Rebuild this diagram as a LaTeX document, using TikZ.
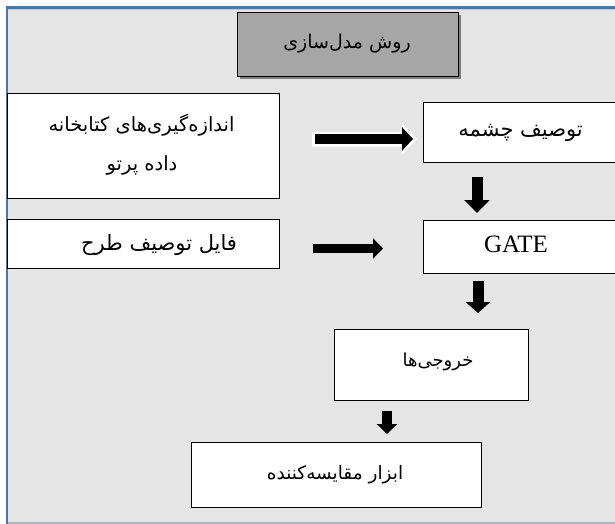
\documentclass[tikz,border=0pt]{standalone}
\usepackage{fontspec}
\setmainfont{Liberation Serif}
\newfontfamily\fa[Script=Arabic]{DejaVu Sans}
\TeXXeTstate=1
\usetikzlibrary{arrows.meta}
\definecolor{bg}{HTML}{E5E5E5}
\definecolor{framecol}{HTML}{4A78A8}
\definecolor{framelight}{HTML}{B9CCE0}
\definecolor{bottomcol}{HTML}{A8B6C6}
\definecolor{titlefill}{HTML}{A6A6A6}
\definecolor{shadowcol}{HTML}{7F7F7F}
\tikzset{
  box/.style={draw=black, fill=white, line width=1.3pt, inner sep=0pt, anchor=north west},
  fatext/.style={font=\fa\fontsize{#1}{22}\selectfont, inner sep=0pt},
  fatext/.default=18,
  entext/.style={font=\fontsize{25}{28}\selectfont, inner sep=0pt},
  harrow/.style={draw=black, line width=#1},
}
\begin{document}
\begin{tikzpicture}[x=1pt,y=-1pt]
\useasboundingbox (0,0) rectangle (615,524);
\begin{scope}
\clip (0,0) rectangle (615,524);
% frame
\fill[bg] (7,8) rectangle (640,523);
\draw[bottomcol, line width=1.5pt] (6,523) -- (640,523);
\draw[framecol, line width=2.6pt] (7,523.5) -- (7,7.5) -- (640,7.5);
\draw[framelight, line width=0.8pt] (8.3,9.4) -- (640,9.4);
% title
\fill[shadowcol] (240,15) rectangle (461,79);
\node[box, fill=titlefill, line width=1pt, minimum width=221pt, minimum height=64pt] (T) at (237,12) {};
\node[fatext=19] (Tt) at (347,44) {\beginR روش مدل‌سازی\endR};
% boxes
\node[box, minimum width=272pt, minimum height=105pt] (A) at (7,93) {};
\node[fatext=19.5] (At1) at (141.5,125) {\beginR اندازه‌گیری‌های کتابخانه\endR};
\node[fatext=19.5] (At2) at (142,165) {\beginR داده پرتو\endR};
\node[box, minimum width=194pt, minimum height=60pt] (B) at (423,102) {};
\node[fatext=21] (Bt) at (B.center) {\beginR توصیف چشمه\endR};
\node[box, minimum width=272pt, minimum height=49pt] (C) at (7,219) {};
\node[fatext=21] (Ct) at (159,245) {\beginR فایل توصیف طرح\endR};
\node[box, minimum width=194pt, minimum height=53pt] (G) at (423,220) {};
\node[entext] (Gt) at (516,244) {GATE};
\node[box, minimum width=194pt, minimum height=71pt] (O) at (334,329) {};
\node[fatext=18] (Ot) at (438,362) {\beginR خروجی‌ها\endR};
\node[box, minimum width=290pt, minimum height=65pt] (M) at (191,442) {};
\node[fatext=18.5] (Mt) at (335,475) {\beginR ابزار مقایسه‌کننده\endR};
% arrows
\coordinate (a1s) at (315,139);
\coordinate (a1e) at (413,139);
\coordinate (a1sw) at (312,139);
\coordinate (a1ew) at (417,139);
\coordinate (a2s) at (313,248.5);
\coordinate (a2e) at (383,248.5);
\coordinate (d1s) at (477,177);
\coordinate (d1e) at (477,213);
\coordinate (d2s) at (478,281);
\coordinate (d2e) at (478,313);
\coordinate (d3s) at (387,411);
\coordinate (d3e) at (387,434);
\draw[harrow=15pt, draw=white, -{Triangle[width=31pt,length=15pt]}] (a1sw) -- (a1ew);
\draw[harrow=10pt, -{Triangle[width=23pt,length=11pt]}] (a1s) -- (a1e);
\draw[harrow=9.5pt, -{Triangle[width=20pt,length=10pt]}] (a2s) -- (a2e);
\draw[harrow=11pt, -{Triangle[width=25pt,length=13pt]}] (d1s) -- (d1e);
\draw[harrow=11pt, -{Triangle[width=24pt,length=11pt]}] (d2s) -- (d2e);
\draw[harrow=10pt, -{Triangle[width=20pt,length=10pt]}] (d3s) -- (d3e);
\end{scope}
\end{tikzpicture}
\end{document}
